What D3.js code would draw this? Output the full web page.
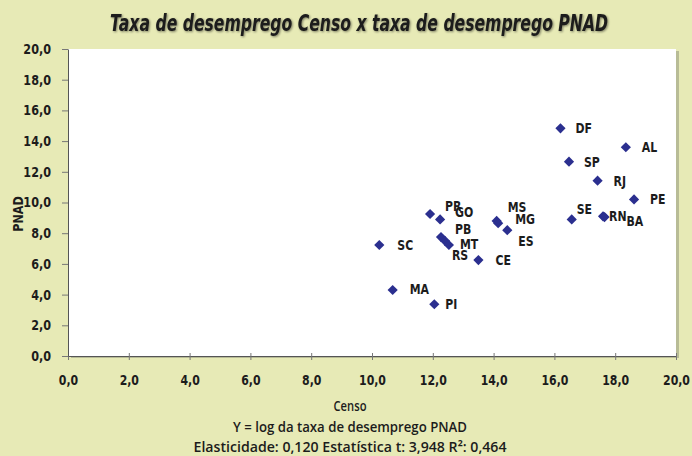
<!DOCTYPE html>
<html><head><meta charset="utf-8">
<script src="https://cdn.jsdelivr.net/npm/d3@7"></script>
<style>
body{margin:0;background:#e7eab6;}
svg{display:block;}
text{font-family:"DejaVu Sans",sans-serif;fill:#1c1c1c;}
</style></head><body>
<svg id="c" width="692" height="456"></svg>
<script>
const states = ["DF","AL","SP","RJ","PE","SE","RN","BA","PR","GO","MS","MG","ES","PB","MT","RS","CE","SC","MA","PI"];
const censo  = [16.2,18.35,16.48,17.42,18.62,16.57,17.6,17.65,11.91,12.24,14.1,14.15,14.45,12.27,12.4,12.53,13.5,10.24,10.68,12.05];
const pnad   = [14.83,13.6,12.66,11.42,10.2,8.9,9.1,9.05,9.25,8.9,8.8,8.65,8.2,7.75,7.5,7.23,6.25,7.23,4.3,3.37];
const xTicks = [0,2,4,6,8,10,12,14,16,18,20];
const yTicks = [0,2,4,6,8,10,12,14,16,18,20];
const title = "Taxa de desemprego Censo x taxa de desemprego PNAD";
const xTitle = "Censo";
const yTitle = "PNAD";
const notes = ["Y = log da taxa de desemprego PNAD", "Elasticidade: 0,120  Estatística t: 3,948  R²: 0,464"];

// label offsets (pixels) relative to each point
const labelOffset = {
  DF:[15,5],AL:[16,5],SP:[15,5],RJ:[16,5],PE:[16,5],SE:[5,-5],RN:[6,5],BA:[22,9],
  PR:[15,-3],GO:[15,-2],MS:[11,-9],MG:[17,1],ES:[11,16],PB:[14,-3],MT:[15,8],RS:[3,15],
  CE:[17,5],SC:[18,5],MA:[17,4],PI:[11,5]
};

function condense(sel, f) {
  sel.each(function() {
    const len = this.getComputedTextLength();
    d3.select(this).attr("textLength", len * f).attr("lengthAdjust", "spacingAndGlyphs");
  });
}

const svg = d3.select("#c");
const m = {l:68, r:676, t:49, b:356};
const x = d3.scaleLinear().domain([0,20]).range([m.l, m.r]);
const y = d3.scaleLinear().domain([0,20]).range([m.b, m.t]);
const fmt = d => d3.format(".1f")(d).replace(".", ",");

// plot area with shadow
svg.append("rect").attr("x", m.l+3).attr("y", m.t+2).attr("width", m.r-m.l).attr("height", m.b-m.t)
  .attr("fill", "#9a9c80").attr("opacity", 0.6);
svg.append("rect").attr("x", m.l).attr("y", m.t).attr("width", m.r-m.l).attr("height", m.b-m.t)
  .attr("fill", "#ffffff");

// axes
const gx = svg.append("g").attr("transform", `translate(0,${m.b})`)
  .call(d3.axisBottom(x).tickValues(xTicks).tickFormat(fmt).tickSize(4).tickSizeOuter(0));
const gy = svg.append("g").attr("transform", `translate(${m.l},0)`)
  .call(d3.axisLeft(y).tickValues(yTicks).tickFormat(fmt).tickSize(6).tickSizeOuter(0));
[gx, gy].forEach(g => {
  g.select(".domain").attr("stroke", "#555").attr("stroke-width", 1);
  g.selectAll(".tick line").attr("stroke", "#777");
  g.selectAll("text").attr("font-size", 14).attr("fill", "#1c1c1c")
    .attr("font-family", "'DejaVu Sans',sans-serif").attr("font-weight", "bold");
});
gx.selectAll(".tick line").attr("y1", -3).attr("y2", 4);
gx.selectAll("text").attr("dy", "1.55em");
gy.selectAll("text").attr("dx", "-8");
condense(gx.selectAll("text"), 0.78);
condense(gy.selectAll("text"), 0.8);

// points
const pts = states.map((s,i) => ({s, cx:censo[i], py:pnad[i]}));
const sym = d3.symbol().type(d3.symbolSquare).size(52);
svg.append("g").selectAll("path").data(pts).join("path")
  .attr("d", sym)
  .attr("transform", d => `translate(${x(d.cx)},${y(d.py)}) rotate(45)`)
  .attr("fill", "#2b2f8f");

const lbl = svg.append("g").selectAll("text").data(pts).join("text")
  .attr("x", d => x(d.cx) + labelOffset[d.s][0])
  .attr("y", d => y(d.py) + labelOffset[d.s][1])
  .attr("font-size", 14).attr("font-weight", "bold")
  .text(d => d.s);
condense(lbl, 0.78);

// titles
svg.append("text").attr("x", 359).attr("y", 31).attr("text-anchor", "middle")
  .attr("font-size", 23).attr("font-style", "italic").attr("font-weight", "bold")
  .attr("textLength", 498).attr("lengthAdjust", "spacingAndGlyphs")
  .style("filter", "drop-shadow(1px 1px 1px rgba(0,0,0,0.45))")
  .text(title);
const xt = svg.append("text").attr("x", 350).attr("y", 411).attr("text-anchor", "middle")
  .style("font-family", "'Open Sans','DejaVu Sans',sans-serif")
  .attr("font-size", 14).attr("font-weight", 600).text(xTitle);
condense(xt, 0.8);
const yt = svg.append("text").attr("transform", "translate(23,214) rotate(-90)").attr("text-anchor", "middle")
  .attr("font-size", 14).attr("font-weight", "bold").text(yTitle);
condense(yt, 0.8);
notes.forEach((t,i) => {
  const n = svg.append("text").attr("x", 350).attr("y", 432 + i*20).attr("text-anchor", "middle").attr("font-size", 15)
    .style("font-family", "'Open Sans','DejaVu Sans',sans-serif")
    .attr("font-weight", 600).text(t);
  n.attr("textLength", i === 0 ? 234 : 313).attr("lengthAdjust", "spacingAndGlyphs");
});
</script>
</body></html>
